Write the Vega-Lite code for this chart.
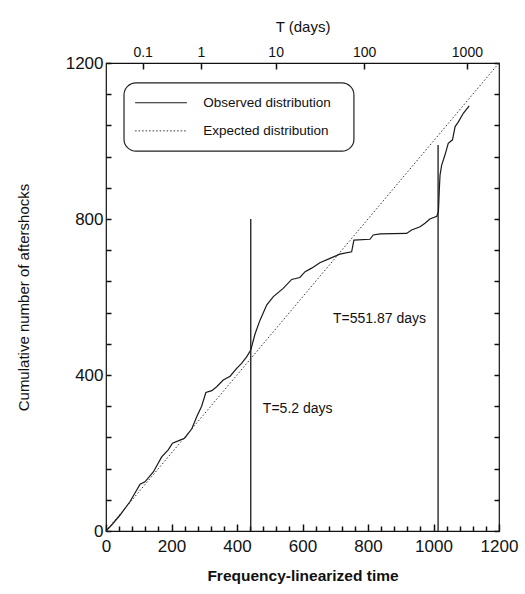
{
  "$schema": "https://vega.github.io/schema/vega-lite/v6.json",
  "width": 393,
  "height": 468,
  "autosize": {"type": "none"},
  "padding": {"left": 106, "top": 63, "right": 26, "bottom": 63},
  "background": "white",
  "config": {
    "view": {"stroke": "#111", "strokeWidth": 1.2},
    "font": "Liberation Sans",
    "axis": {"domain": false, "grid": false, "labelColor": "#111", "titleColor": "#111", "labelFont": "Liberation Sans", "titleFont": "Liberation Sans", "labelOverlap": false, "labelFlush": false}
  },
  "datasets": {
    "observed": [
      {"x": 0, "y": 0}, {"x": 20, "y": 18}, {"x": 43, "y": 41}, {"x": 73, "y": 75}, {"x": 104, "y": 120},
      {"x": 119, "y": 126}, {"x": 145, "y": 152}, {"x": 170, "y": 190}, {"x": 190, "y": 208}, {"x": 203, "y": 225},
      {"x": 226, "y": 233}, {"x": 240, "y": 238}, {"x": 262, "y": 262}, {"x": 277, "y": 293}, {"x": 292, "y": 320},
      {"x": 305, "y": 355}, {"x": 323, "y": 360}, {"x": 338, "y": 370}, {"x": 358, "y": 387}, {"x": 379, "y": 397},
      {"x": 399, "y": 417}, {"x": 414, "y": 430}, {"x": 430, "y": 447}, {"x": 442, "y": 464}, {"x": 455, "y": 505},
      {"x": 470, "y": 540}, {"x": 491, "y": 580}, {"x": 511, "y": 601}, {"x": 541, "y": 622}, {"x": 567, "y": 645},
      {"x": 592, "y": 650}, {"x": 608, "y": 665}, {"x": 628, "y": 674}, {"x": 653, "y": 688}, {"x": 684, "y": 699},
      {"x": 714, "y": 710}, {"x": 750, "y": 716}, {"x": 757, "y": 746}, {"x": 806, "y": 748}, {"x": 816, "y": 759},
      {"x": 837, "y": 762}, {"x": 918, "y": 763}, {"x": 933, "y": 772}, {"x": 959, "y": 780}, {"x": 974, "y": 789},
      {"x": 989, "y": 800}, {"x": 1010, "y": 807}, {"x": 1015, "y": 819}, {"x": 1018, "y": 880}, {"x": 1020, "y": 913},
      {"x": 1025, "y": 938}, {"x": 1035, "y": 964}, {"x": 1045, "y": 994}, {"x": 1058, "y": 1003}, {"x": 1066, "y": 1037},
      {"x": 1076, "y": 1049}, {"x": 1091, "y": 1071}, {"x": 1109, "y": 1090}
    ],
    "expected": [{"x": 0, "y": 0}, {"x": 1200, "y": 1200}],
    "cuts": [{"x": 442, "y": 0, "y2": 800}, {"x": 1014, "y": 0, "y2": 990}],
    "one": [{"k": 1}]
  },
  "layer": [
    {
      "data": {"name": "one"},
      "mark": {"type": "rect", "fill": "white", "stroke": "#222", "strokeWidth": 1.2, "cornerRadius": 12},
      "encoding": {
        "x": {"datum": 55, "type": "quantitative", "axis": null},
        "x2": {"datum": 757},
        "y": {"datum": 1149, "type": "quantitative", "axis": null},
        "y2": {"datum": 974}
      }
    },
    {
      "data": {"name": "one"},
      "mark": {"type": "rule", "color": "#1a1a1a", "strokeWidth": 1.1},
      "encoding": {
        "x": {"datum": 89, "type": "quantitative", "axis": null},
        "x2": {"datum": 247},
        "y": {"datum": 1098, "type": "quantitative", "axis": null}
      }
    },
    {
      "data": {"name": "one"},
      "mark": {"type": "rule", "color": "#333", "strokeWidth": 1, "strokeDash": [1.5, 2]},
      "encoding": {
        "x": {"datum": 89, "type": "quantitative", "axis": null},
        "x2": {"datum": 247},
        "y": {"datum": 1026, "type": "quantitative", "axis": null}
      }
    },
    {
      "data": {"name": "one"},
      "mark": {"type": "text", "text": "Observed distribution", "align": "left", "baseline": "middle", "fontSize": 13.5, "color": "#111"},
      "encoding": {
        "x": {"datum": 297, "type": "quantitative", "axis": null},
        "y": {"datum": 1098, "type": "quantitative", "axis": null}
      }
    },
    {
      "data": {"name": "one"},
      "mark": {"type": "text", "text": "Expected distribution", "align": "left", "baseline": "middle", "fontSize": 13.5, "color": "#111"},
      "encoding": {
        "x": {"datum": 297, "type": "quantitative", "axis": null},
        "y": {"datum": 1026, "type": "quantitative", "axis": null}
      }
    },
    {
      "data": {"name": "one"},
      "mark": {"type": "text", "text": "T=5.2 days", "align": "left", "baseline": "middle", "fontSize": 14, "color": "#111"},
      "encoding": {
        "x": {"datum": 479, "type": "quantitative", "axis": null},
        "y": {"datum": 313, "type": "quantitative", "axis": null}
      }
    },
    {
      "data": {"name": "one"},
      "mark": {"type": "text", "text": "T=551.87 days", "align": "left", "baseline": "middle", "fontSize": 14, "color": "#111"},
      "encoding": {
        "x": {"datum": 693, "type": "quantitative", "axis": null},
        "y": {"datum": 544, "type": "quantitative", "axis": null}
      }
    },
    {
      "data": {"name": "cuts"},
      "mark": {"type": "rule", "color": "#1a1a1a", "strokeWidth": 1.3},
      "encoding": {
        "x": {"field": "x", "type": "quantitative",
          "axis": {"orient": "bottom", "title": null, "labels": false, "ticks": true, "tickColor": "#111", "tickWidth": 1.5,
            "values": [40,80,120,160,240,280,320,360,440,480,520,560,640,680,720,760,840,880,920,960,1040,1080,1120,1160],
            "tickSize": -5}},
        "y": {"field": "y", "type": "quantitative", "axis": null},
        "y2": {"field": "y2"}
      }
    },
    {
      "data": {"name": "expected"},
      "mark": {"type": "line", "color": "#333", "strokeWidth": 1, "strokeDash": [1.5, 2]},
      "encoding": {
        "x": {"field": "x", "type": "quantitative",
          "axis": {"orient": "top", "title": "T (days)", "titleFontSize": 15, "titleFontWeight": "normal", "titlePadding": 11,
            "values": [112, 290, 518, 788, 1102],
            "labelExpr": "datum.value == 112 ? '0.1' : datum.value == 290 ? '1' : datum.value == 518 ? '10' : datum.value == 788 ? '100' : '1000'",
            "labelFontSize": 14, "labelPadding": 10, "ticks": true, "tickColor": "#111", "tickWidth": 1.5, "tickSize": -6}},
        "y": {"field": "y", "type": "quantitative",
          "axis": {"orient": "right", "title": null, "labels": false, "ticks": true, "tickColor": "#111", "tickWidth": 1.5,
            "values": [0,80,160,240,320,400,480,560,640,720,800,880,960,1040,1120,1200], "tickSize": -5}}
      }
    },
    {
      "data": {"name": "observed"},
      "mark": {"type": "line", "color": "#1a1a1a", "strokeWidth": 1.2},
      "encoding": {
        "x": {"field": "x", "type": "quantitative", "scale": {"domain": [0, 1200], "nice": false, "zero": false},
          "axis": {"orient": "bottom", "title": "Frequency-linearized time", "titleFontSize": 15.5, "titleFontWeight": "bold", "titlePadding": 14,
            "values": [0, 200, 400, 600, 800, 1000, 1200], "format": "d", "ticks": true, "tickColor": "#111", "tickWidth": 1.5,
            "labelFontSize": 17, "labelPadding": 14, "tickSize": -7}},
        "y": {"field": "y", "type": "quantitative", "scale": {"domain": [0, 1200], "nice": false, "zero": false},
          "axis": {"orient": "left", "title": "Cumulative number of aftershocks", "titleFontSize": 15, "titleFontWeight": "normal", "titlePadding": 34,
            "values": [0,80,160,240,320,400,480,560,640,720,800,880,960,1040,1120,1200],
            "labelExpr": "datum.value % 400 === 0 ? datum.label : ''", "format": "d", "ticks": true, "tickColor": "#111", "tickWidth": 1.5,
            "labelFontSize": 17, "labelPadding": 8, "tickSize": -5}}
      }
    }
  ],
  "resolve": {"axis": {"x": "independent", "y": "independent"}}
}
